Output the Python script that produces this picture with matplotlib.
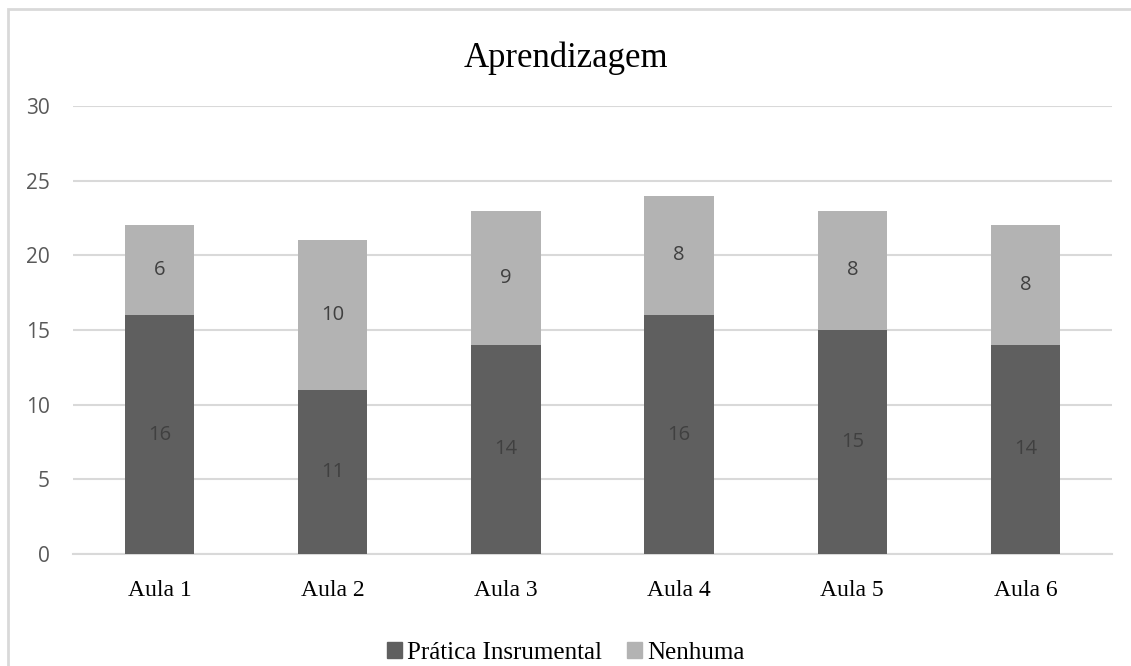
import numpy as np
import matplotlib.pyplot as plt
from matplotlib.patches import Rectangle, Patch

aulas = ['Aula 1', 'Aula 2', 'Aula 3', 'Aula 4', 'Aula 5', 'Aula 6']
pratica = [16, 11, 14, 16, 15, 14]
nenhuma = [6, 10, 9, 8, 8, 8]
yticks = [0, 5, 10, 15, 20, 25, 30]

cor_escura = '#5f5f5f'
cor_clara = '#b3b3b3'
serif = 'Liberation Serif'
sans = 'Open Sans'

fig = plt.figure(figsize=(11.31, 6.66), dpi=100)
fig.patches.append(Rectangle((8/1131, -0.1), 1.2, 1 - 9/666 + 0.1,
                             transform=fig.transFigure, fill=False,
                             edgecolor='#d9d9d9', linewidth=2, zorder=0))

ax = fig.add_axes([73/1131, 112/666, (1112-73)/1131, (554-106)/666])
x = np.arange(len(aulas))
ax.bar(x, pratica, width=0.4, color=cor_escura, zorder=3)
ax.bar(x, nenhuma, width=0.4, bottom=pratica, color=cor_clara, zorder=3)

# rótulos no meio de cada segmento
for i in range(len(aulas)):
    ax.text(x[i], pratica[i]/2, str(pratica[i]), ha='center', va='center',
            fontsize=14.5, color='#404040', family=sans, zorder=4)
    ax.text(x[i], pratica[i] + nenhuma[i]/2, str(nenhuma[i]), ha='center', va='center',
            fontsize=14.5, color='#404040', family=sans, zorder=4)

ax.set_xlim(-0.5, len(aulas) - 0.5)
ax.set_ylim(0, 30)
ax.set_yticks(yticks)
ax.set_xticks(x)
ax.set_xticklabels(aulas, family=serif, fontsize=17, color='#000000')
for lab in ax.get_yticklabels():
    lab.set_family(sans)
    lab.set_fontsize(15)
    lab.set_color('#595959')
ax.tick_params(axis='y', length=0, pad=16.5)
ax.tick_params(axis='x', length=0, pad=19)
ax.grid(axis='y', color='#d9d9d9', linewidth=1.5, zorder=0)
ax.set_axisbelow(True)
for s in ['top', 'right', 'left']:
    ax.spines[s].set_visible(False)
ax.spines['bottom'].set_color('#d9d9d9')
ax.spines['bottom'].set_linewidth(1.5)

fig.text(0.5, 1 - 58/666, 'Aprendizagem', ha='center', va='center',
         family=serif, fontsize=25, color='#000000')

handles = [Patch(color=cor_escura), Patch(color=cor_clara)]
fig.legend(handles, ['Prática Insrumental', 'Nenhuma'], loc='center',
           bbox_to_anchor=(0.5, 13/666), ncol=2, frameon=False,
           prop={'family': serif, 'size': 18}, handlelength=0.6, handleheight=0.6,
           handletextpad=0.2, columnspacing=1.0)

fig.savefig('out.png', dpi=100)
